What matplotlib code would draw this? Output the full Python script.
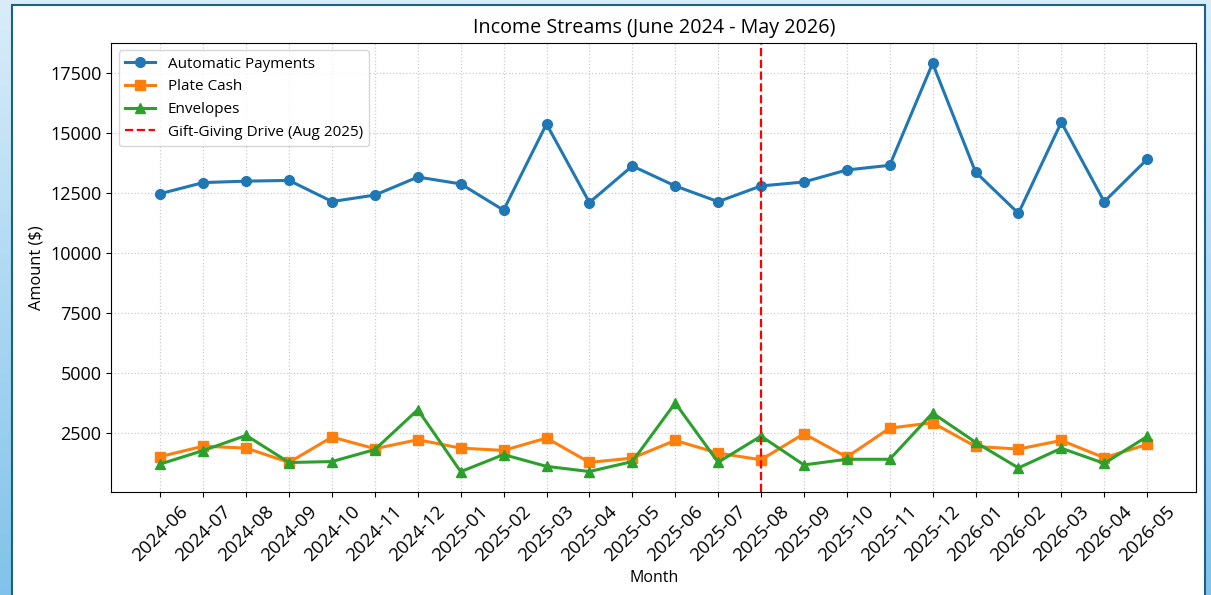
import numpy as np
import matplotlib
matplotlib.use("Agg")
import matplotlib.pyplot as plt
from matplotlib.patches import Rectangle
from matplotlib.colors import LinearSegmentedColormap

plt.rcParams.update({
    "font.family": ["Open Sans", "DejaVu Sans"],
})

months = ['2024-06', '2024-07', '2024-08', '2024-09', '2024-10', '2024-11',
          '2024-12', '2025-01', '2025-02', '2025-03', '2025-04', '2025-05',
          '2025-06', '2025-07', '2025-08', '2025-09', '2025-10', '2025-11',
          '2025-12', '2026-01', '2026-02', '2026-03', '2026-04', '2026-05']

automatic = [12460, 12920, 12980, 13010, 12130, 12400, 13150, 12865,
             11770, 15360, 12090, 13610, 12780, 12125, 12780, 12945,
             13445, 13640, 17890, 13360, 11640, 15430, 12125, 13890]
plate_cash = [1510, 1940, 1860, 1265, 2320, 1835, 2210, 1860,
              1765, 2280, 1265, 1445, 2180, 1650, 1375, 2460,
              1485, 2695, 2915, 1930, 1820, 2180, 1460, 2015]
envelopes = [1200, 1760, 2390, 1260, 1300, 1800, 3460, 880,
             1590, 1100, 885, 1300, 3740, 1270, 2360, 1160,
             1395, 1395, 3320, 2105, 1035, 1855, 1225, 2345]

drive_month = '2025-08'

fig = plt.figure(figsize=(12.11, 5.95), dpi=100)

# light blue backdrop with the white card on top
bg = fig.add_axes([0, 0, 1, 1], zorder=-10)
grad = np.linspace(0, 1, 256).reshape(-1, 1)
cmap_bg = LinearSegmentedColormap.from_list('bg', ['#d9edf9', '#80c3ea'])
bg.imshow(grad, aspect='auto', cmap=cmap_bg, extent=[0, 1, 0, 1], origin='upper')
bg.add_patch(Rectangle((12 / 1211, -0.01), 1193 / 1211, 1 - 5 / 595 + 0.01,
                       facecolor='white', edgecolor='#1f5f8b', lw=1.5))
bg.set_xlim(0, 1)
bg.set_ylim(0, 1)
bg.axis('off')

ax = fig.add_axes([0.0917, 0.173, 0.8963, 0.755])
x = np.arange(len(months))

ax.plot(x, automatic, marker='o', lw=2.2, ms=7, color='#1f77b4', label='Automatic Payments')
ax.plot(x, plate_cash, marker='s', lw=2.2, ms=7, color='#ff7f0e', label='Plate Cash')
ax.plot(x, envelopes, marker='^', lw=2.2, ms=7, color='#2ca02c', label='Envelopes')
ax.axvline(months.index(drive_month), color='red', linestyle='--', lw=1.6,
           label='Gift-Giving Drive (Aug 2025)')

ax.set_xticks(x)
ax.set_xticklabels(months, rotation=45)
ax.tick_params(axis='x', labelsize=13.5, pad=4)
ax.tick_params(axis='y', labelsize=13)
ax.grid(True, linestyle=':', color='#cccccc', lw=0.9)

ax.set_title('Income Streams (June 2024 - May 2026)', fontsize=14.2, pad=7)
ax.set_xlabel('Month', fontsize=11.5)
ax.set_ylabel('Amount ($)', fontsize=11.8)
ax.legend(loc='upper left', fontsize=11, framealpha=0.8)

fig.savefig('out.png', dpi=100)
